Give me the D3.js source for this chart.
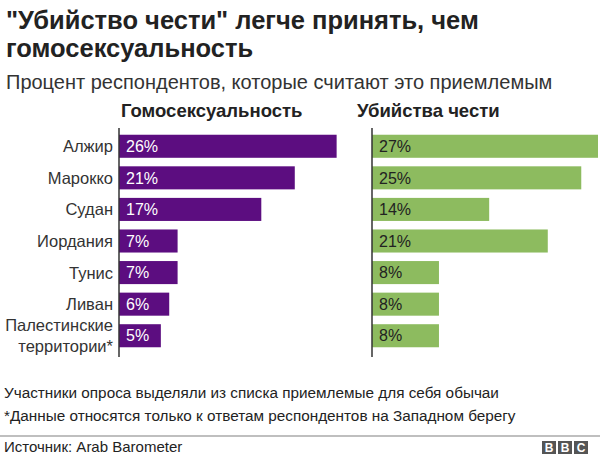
<!DOCTYPE html>
<html>
<head>
<meta charset="utf-8">
<script src="https://cdn.jsdelivr.net/npm/d3@7"></script>
<style>
  body { margin: 0; background: #fff; }
  svg { font-family: "Liberation Sans", Arial, sans-serif; }
</style>
</head>
<body>
<script>
const width = 600;
const height = 457;

const countries = ['Алжир', 'Марокко', 'Судан', 'Иордания', 'Тунис', 'Ливан', 'Палестинские\nтерритории*'];
const homosexuality = [26, 21, 17, 7, 7, 6, 5];
const honourKilling = [27, 25, 14, 21, 8, 8, 8];

const purple = '#5c0d80';
const green = '#8dbb5f';

const svg = d3.select('body')
    .append('svg')
    .attr('width', width)
    .attr('height', height);

// titles
svg.append('text').attr('x', 6).attr('y', 29)
    .style('font-size', '25.5px').style('font-weight', 'bold').attr('fill', '#222')
    .text('"Убийство чести" легче принять, чем');
svg.append('text').attr('x', 6).attr('y', 57)
    .style('font-size', '25.5px').style('font-weight', 'bold').attr('fill', '#222')
    .text('гомосексуальность');
svg.append('text').attr('x', 6).attr('y', 89)
    .style('font-size', '20px').attr('fill', '#333')
    .text('Процент респондентов, которые считают это приемлемым');

const y = d3.scaleBand()
    .domain(countries)
    .range([130, 352])
    .paddingInner(0.27)
    .paddingOuter(0.15);

const x = d3.scaleLinear().domain([0, 27]).range([0, 226]);

function panel(x0, titleX, values, color, textColor, title) {
    const g = svg.append('g').attr('transform', `translate(${x0},0)`);
    g.append('text').attr('x', titleX).attr('y', 117)
        .style('font-size', '18.5px').style('font-weight', 'bold').attr('fill', '#222')
        .text(title);
    g.selectAll('rect')
        .data(values)
        .enter()
        .append('rect')
        .attr('x', 0)
        .attr('y', (d, i) => y(countries[i]))
        .attr('width', (d) => x(d))
        .attr('height', y.bandwidth())
        .attr('fill', color);
    g.selectAll('text.val')
        .data(values)
        .enter()
        .append('text')
        .attr('class', 'val')
        .attr('x', 7)
        .attr('y', (d, i) => y(countries[i]) + y.bandwidth() / 2)
        .attr('dy', '0.36em')
        .style('font-size', '16px')
        .attr('fill', textColor)
        .text((d) => d + '%');
    g.append('line')
        .attr('x1', 0).attr('x2', 0)
        .attr('y1', 128).attr('y2', 357)
        .attr('stroke', '#333').attr('stroke-width', 1.5);
    return g;
}

panel(119, 2, homosexuality, purple, '#fff', 'Гомосексуальность');
panel(372, -15, honourKilling, green, '#222', 'Убийства чести');

// country labels
countries.forEach((c) => {
    const lines = c.split('\n');
    const mid = y(c) + y.bandwidth() / 2;
    lines.forEach((l, j) => {
        svg.append('text')
            .attr('x', 113)
            .attr('y', mid + (j - (lines.length - 1) / 2) * 21)
            .attr('dy', '0.36em')
            .attr('text-anchor', 'end')
            .style('font-size', '16.5px')
            .attr('fill', '#333')
            .text(l);
    });
});

// notes
svg.append('text').attr('x', 4).attr('y', 398)
    .style('font-size', '15.3px').attr('fill', '#222')
    .text('Участники опроса выделяли из списка приемлемые для себя обычаи');
svg.append('text').attr('x', 4).attr('y', 421)
    .style('font-size', '15.3px').attr('fill', '#222')
    .text('*Данные относятся только к ответам респондентов на Западном берегу');

svg.append('line')
    .attr('x1', 0).attr('x2', width)
    .attr('y1', 436).attr('y2', 436)
    .attr('stroke', '#aaa').attr('stroke-width', 1.5);

svg.append('text').attr('x', 4).attr('y', 452)
    .style('font-size', '15px').attr('fill', '#222')
    .text('Источник: Arab Barometer');

// BBC logo
['B', 'B', 'C'].forEach((ch, i) => {
    svg.append('rect')
        .attr('x', 542 + i * 16).attr('y', 441)
        .attr('width', 14).attr('height', 13)
        .attr('fill', '#555');
    svg.append('text')
        .attr('x', 549 + i * 16).attr('y', 452)
        .attr('text-anchor', 'middle')
        .style('font-size', '12px').style('font-weight', 'bold')
        .attr('fill', '#fff')
        .text(ch);
});
</script>
</body>
</html>
